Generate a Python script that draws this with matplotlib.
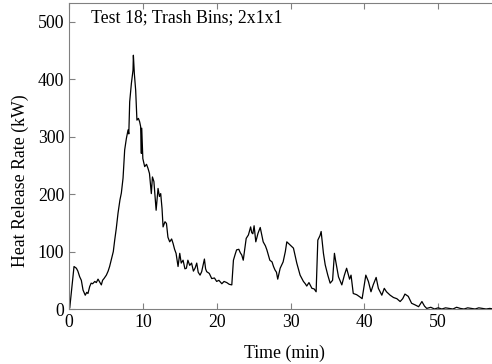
import matplotlib
matplotlib.use('Agg')
import matplotlib.pyplot as plt

plt.rcParams['font.family'] = 'Liberation Serif'
plt.rcParams['font.size'] = 12.8

# Test 18 heat release rate
time_min = [0.0, 0.1, 0.4, 0.68, 1.0, 1.2, 1.45, 1.67, 1.9, 2.2, 2.4, 2.57, 2.8, 3.0, 3.2,
            3.5, 3.7, 3.93, 4.15, 4.38, 4.55, 4.74, 5.06, 5.3, 5.5, 5.83, 6.0, 6.19,
            6.4, 6.64, 6.9, 7.09, 7.32, 7.45, 7.54, 7.77, 8.0, 8.1, 8.22, 8.45, 8.67,
            8.72, 8.85, 9.03, 9.2, 9.4, 9.57, 9.7, 9.8, 9.85, 10.0, 10.25, 10.5, 10.7,
            10.9, 11.15, 11.3, 11.5, 11.8, 12.06, 12.25, 12.42, 12.6, 12.74, 13.0,
            13.2, 13.4, 13.64, 13.9, 14.1, 14.3, 14.5, 14.77, 15.0, 15.2, 15.45,
            15.7, 15.9, 16.1, 16.35, 16.6, 16.85, 17.07, 17.3, 17.5, 17.75, 17.97,
            18.34, 18.5, 18.65, 19.0, 19.33, 19.7, 20.0, 20.3, 20.7, 21.0, 21.37,
            21.7, 22.05, 22.27, 22.5, 22.7, 23.0, 23.2, 23.4, 23.6, 24.0, 24.3,
            24.6, 24.75, 24.9, 25.07, 25.3, 25.6, 25.9, 26.3, 26.6, 26.8, 27.2,
            27.5, 27.7, 27.9, 28.1, 28.27, 28.6, 29.0, 29.3, 29.5, 29.9, 30.4,
            30.85, 31.3, 31.75, 32.0, 32.2, 32.5, 32.9, 33.2, 33.47, 33.7, 34.0,
            34.15, 34.46, 34.7, 35.05, 35.37, 35.7, 35.95, 36.1, 36.5, 36.95, 37.3,
            37.6, 38.0, 38.2, 38.5, 38.95, 39.4, 39.7, 40.2, 40.55, 40.9, 41.2,
            41.6, 41.9, 42.37, 42.7, 43.0, 43.5, 43.95, 44.4, 44.85, 45.2, 45.5,
            45.95, 46.4, 46.9, 47.35, 47.8, 48.15, 48.45, 49.0, 49.5, 50.0, 50.5,
            51.0, 51.5, 52.0, 52.5, 53.0, 53.5, 54.0, 54.5, 55.0, 55.5, 56.0,
            56.5, 57.0, 57.5]
hrr_kw = [0, 2, 40, 74, 71, 66, 56, 50, 33, 24, 29, 27, 39, 45, 44,
          48, 46, 52, 47, 42, 50, 53, 59, 66, 74, 91, 100, 120,
          140, 167, 190, 202, 228, 258, 277, 297, 312, 305, 361, 393, 416,
          442, 410, 381, 329, 332, 326, 318, 271, 315, 262, 248, 252, 245,
          236, 201, 230, 222, 172, 210, 196, 201, 175, 143, 152,
          149, 125, 117, 122, 114, 104, 97, 74, 97, 80, 85,
          70, 71, 85, 76, 80, 66, 71, 80, 64, 59, 65,
          87, 70, 65, 62, 53, 54, 48, 50, 44, 48, 46,
          43, 42, 85, 95, 103, 104, 98, 94, 85, 123, 129,
          143, 133, 131, 145, 117, 132, 142, 117, 110, 103, 85,
          82, 74, 68, 64, 52, 71, 82, 100, 117, 112, 106,
          80, 59, 48, 44, 40, 46, 36, 35, 30, 120, 128,
          135, 97, 77, 59, 45, 50, 97, 85, 56, 42, 59,
          71, 52, 59, 27, 25, 21, 18, 59, 48, 30, 42,
          55, 36, 24, 36, 30, 24, 20, 18, 13, 18, 26,
          22, 10, 7, 4, 13, 5, 1, 3, 0, 2, 0,
          2, 1, 0, 3, 1, 0, 2, 1, 0, 2, 1,
          0, 1, 0]

fig = plt.figure(figsize=(4.92, 3.64), dpi=100)
# axes extends past the right edge like the cropped original
ax = fig.add_axes([69/492, 55/364, 443/492, 306/364])
ax.plot(time_min, hrr_kw, color='black', linewidth=0.9)

ax.set_xlim(0, 60)
ax.set_ylim(0, 533)
ax.set_xticks([0, 10, 20, 30, 40, 50])
ax.set_yticks([0, 100, 200, 300, 400, 500])
ax.tick_params(direction='in', length=4, color='#808080', top=True, right=True, labelcolor='black')
for s in ax.spines.values():
    s.set_color('#808080')

ax.set_xlabel('Time (min)')
ax.set_ylabel('Heat Release Rate (kW)')
ax.xaxis.set_label_coords((284-69)/443, -0.115)
ax.yaxis.set_label_coords(-0.09, 0.42)
ax.text(3.0, 507, 'Test 18; Trash Bins; 2x1x1', va='center', ha='left')

fig.savefig('out.png', dpi=100)
